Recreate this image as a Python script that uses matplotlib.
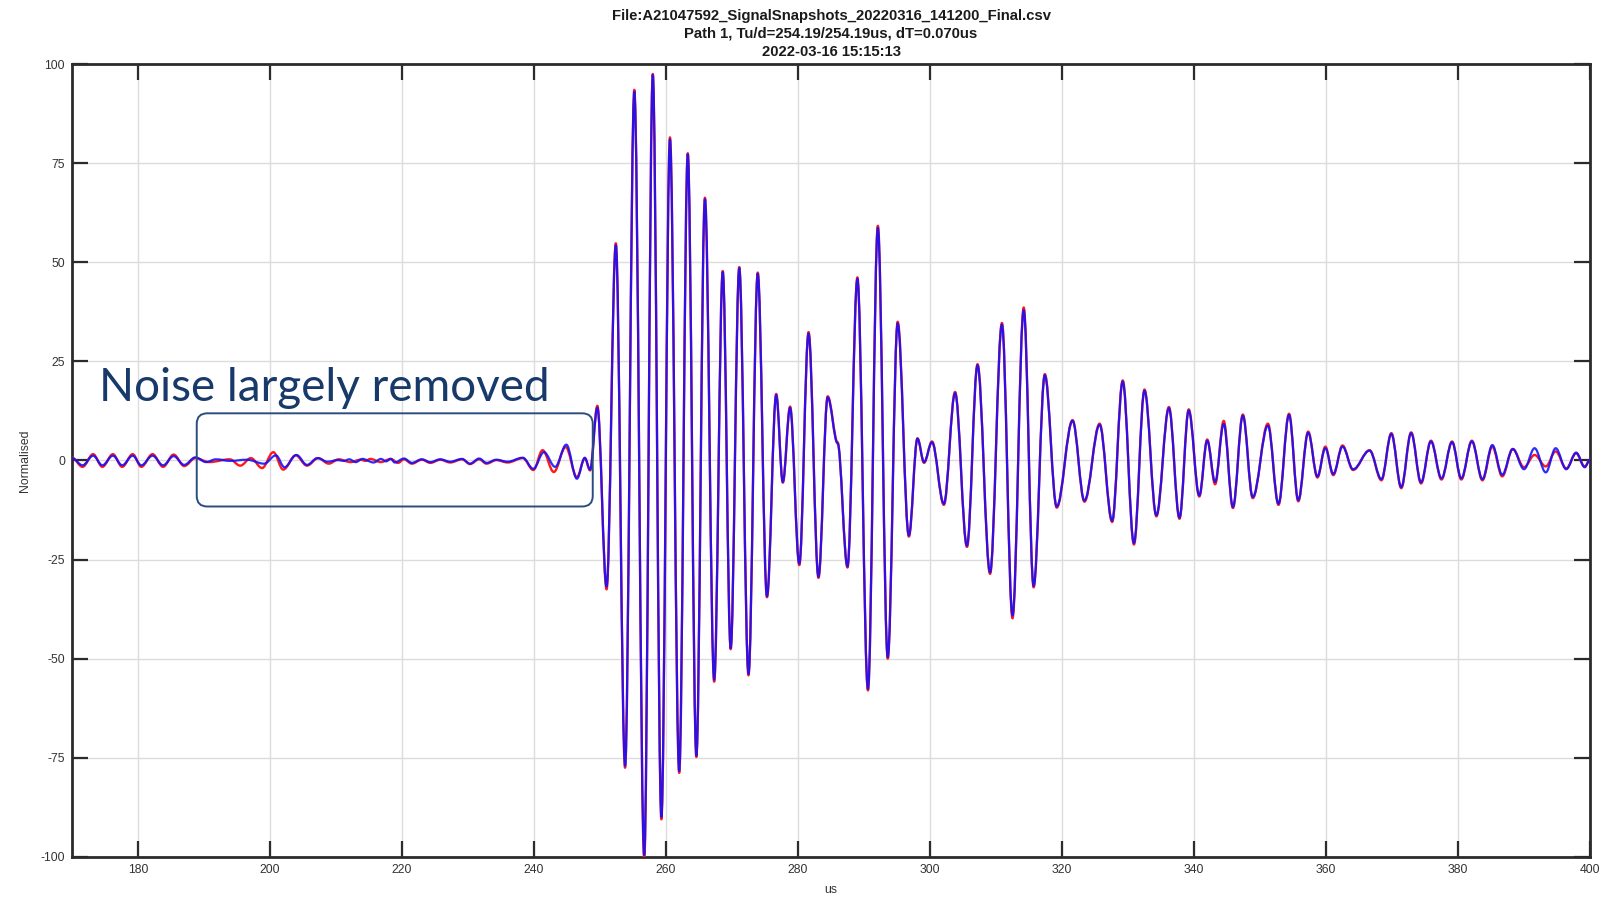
import matplotlib
matplotlib.use("Agg")
import matplotlib.pyplot as plt
from matplotlib.path import Path
from matplotlib.patches import PathPatch, FancyBboxPatch

plt.rcParams['font.family'] = ['Liberation Sans', 'DejaVu Sans']
plt.rcParams['axes.unicode_minus'] = False

# extrema of the two traces read off the snapshot (time in us, normalised amplitude)
# quiet part before the burst: the two traces differ here
noise_t_red = [170.0, 171.6, 173.2, 174.6, 176.2, 177.6, 179.2, 180.5, 182.2, 183.8,
               185.4, 187.0, 188.7, 190.8, 193.9, 195.5, 197.1, 198.8, 200.5, 202.0,
               203.9, 205.6, 207.3, 208.9, 210.4, 212.2, 213.7, 214.5, 215.2, 216.8,
               218.3, 219.4, 220.3, 221.5, 223.0, 224.3, 225.8, 227.3, 229.1, 230.3,
               231.7, 232.8, 234.3, 236.0, 238.3, 239.9, 241.3, 243.0, 244.8, 246.5,
               247.7, 248.5]
noise_y_red = [0.7, -1.6, 1.6, -1.6, 1.6, -1.6, 1.6, -1.6, 1.6, -1.6,
               1.5, -1.4, 0.6, -0.4, 0.3, -1.3, 0.6, -1.9, 2.1, -2.3,
               1.3, -1.3, 0.6, -0.8, 0.3, -0.4, 0.2, -0.1, 0.4, -0.4,
               0.4, -0.6, 0.3, -0.8, 0.2, -0.6, 0.2, -0.5, 0.3, -0.9,
               0.3, -0.8, 0.1, -0.5, 0.6, -2.4, 2.6, -2.9, 3.4, -4.2,
               0.5, -2.5]
noise_t_blue = [170.0, 171.6, 173.2, 174.6, 176.2, 177.6, 179.2, 180.5, 182.2, 183.8,
                185.4, 187.0, 188.7, 190.3, 191.8, 194.0, 196.5, 199.1, 200.9, 202.2,
                204.0, 205.6, 207.2, 208.7, 210.3, 211.2, 212.0, 213.0, 214.0, 215.7,
                216.8, 217.6, 218.3, 218.9, 220.3, 221.5, 223.0, 224.3, 225.8, 227.3,
                229.1, 230.3, 231.7, 232.8, 234.3, 236.0, 238.3, 239.9, 241.5, 243.2,
                244.9, 246.5, 247.7, 248.5]
noise_y_blue = [0.6, -1.2, 1.2, -1.2, 1.2, -1.2, 1.2, -1.2, 1.2, -1.2,
                1.1, -1.1, 0.8, -0.4, 0.3, -0.1, 0.2, -0.8, 1.3, -1.7,
                1.4, -1.1, 0.6, -0.3, 0.1, -0.1, 0.3, -0.4, 0.4, -0.5,
                0.4, -0.2, 0.4, -0.5, 0.5, -0.6, 0.3, -0.4, 0.3, -0.3,
                0.4, -0.8, 0.5, -0.6, 0.2, -0.3, 0.7, -2.1, 2.1, -1.6,
                4.0, -4.6, 0.7, -2.3]

# main burst: both traces share the same extrema times
burst_t = [249.6, 251.0, 252.4, 253.8, 255.2, 256.7, 258.0, 259.3, 260.6, 262.0,
           263.3, 264.6, 265.9, 267.3, 268.6, 269.8, 271.1, 272.5, 273.9, 275.3,
           276.7, 277.7, 278.8, 280.2, 281.6, 283.1, 284.5, 286.0, 287.5, 289.0,
           290.6, 292.1, 293.6, 295.1, 296.8, 298.1, 299.1, 300.3, 302.1, 303.8,
           305.6, 307.2, 309.1, 310.9, 312.5, 314.2, 315.7, 317.4, 319.2, 321.6,
           323.4, 325.7, 327.6, 329.2, 330.9, 332.5, 334.3, 336.2, 337.8, 339.2,
           340.8, 342.0, 343.2, 344.5, 345.9, 347.4, 348.9, 351.2, 352.8, 354.4,
           355.8, 357.3, 358.7, 359.9, 361.1, 362.5, 364.1, 366.6, 368.4, 369.9,
           371.4, 372.9, 374.4, 375.9, 377.5, 379.1, 380.5, 382.1, 383.7, 385.2,
           386.7, 388.3, 390.0, 391.6, 393.3, 394.8, 396.4, 397.9, 399.2, 400.0]
burst_y_blue = [13.3, -31.8, 54.3, -77.0, 93.0, -99.5, 97.2, -89.9, 81.0, -78.3,
                77.2, -74.4, 65.9, -55.3, 47.5, -47.3, 48.5, -53.8, 47.1, -34.2,
                16.5, -5.4, 13.3, -26.0, 32.0, -29.3, 15.9, 4.3, -26.7, 45.8,
                -57.6, 58.7, -49.6, 34.6, -18.9, 5.5, -0.4, 4.6, -10.9, 17.0,
                -21.5, 24.0, -28.2, 34.3, -39.1, 37.9, -31.6, 21.5, -11.6, 10.0,
                -10.1, 9.0, -15.2, 19.9, -20.8, 17.6, -13.8, 13.2, -14.4, 12.6,
                -8.8, 5.0, -5.4, 9.2, -11.7, 11.3, -9.2, 8.8, -10.9, 11.5,
                -10.0, 7.0, -4.0, 3.1, -3.4, 3.5, -2.2, 2.5, -4.7, 6.7,
                -6.7, 6.9, -5.5, 4.8, -4.5, 4.6, -4.5, 4.8, -4.7, 3.9,
                -3.6, 2.9, -2.2, 3.1, -3.0, 3.1, -2.2, 2.0, -1.7, 0.2]
burst_y_red = [13.8, -32.5, 54.8, -77.5, 93.5, -100.5, 97.5, -90.5, 81.5, -78.8,
               77.5, -74.8, 66.3, -55.8, 47.8, -47.6, 48.8, -54.2, 47.4, -34.5,
               16.8, -5.6, 13.6, -26.4, 32.4, -29.6, 16.2, 4.6, -27.0, 46.2,
               -58.0, 59.2, -50.0, 35.0, -19.2, 5.6, -0.6, 4.8, -11.2, 17.3,
               -21.8, 24.3, -28.6, 34.7, -39.8, 38.6, -32.0, 21.8, -11.9, 10.2,
               -10.4, 9.3, -15.5, 20.2, -21.2, 17.9, -14.1, 13.5, -14.7, 12.9,
               -9.1, 5.3, -6.0, 10.0, -12.0, 11.6, -9.5, 9.3, -11.2, 11.8,
               -10.3, 7.3, -4.3, 3.5, -3.7, 3.8, -2.4, 2.6, -5.0, 6.9,
               -7.0, 7.1, -5.8, 5.0, -4.8, 4.8, -4.8, 5.0, -5.0, 3.5,
               -4.0, 2.9, -1.7, 1.4, -1.5, 2.3, -2.0, 1.8, -1.5, 0.2]

title_lines = ["File:A21047592_SignalSnapshots_20220316_141200_Final.csv",
               "Path 1, Tu/d=254.19/254.19us, dT=0.070us",
               "2022-03-16 15:15:13"]
note_text = "Noise largely removed"
note_box = (188.9, -11.6, 60.0, 23.5)   # x0, y0, width, height in data units


def wave_path(t, y, k=0.36):
    # smooth half-wave segments between successive extrema (horizontal tangents)
    verts = [(t[0], y[0])]
    codes = [Path.MOVETO]
    for i in range(1, len(t)):
        dt = t[i] - t[i - 1]
        verts += [(t[i - 1] + k * dt, y[i - 1]), (t[i] - k * dt, y[i]), (t[i], y[i])]
        codes += [Path.CURVE4] * 3
    return Path(verts, codes)


fig = plt.figure(figsize=(16.1, 8.98), dpi=100)
ax = fig.add_axes([0.04472, 0.04566, 0.94286, 0.88307])

red_t = noise_t_red + burst_t
red_y = noise_y_red + burst_y_red
blue_t = noise_t_blue + burst_t
blue_y = noise_y_blue + burst_y_blue

ax.add_patch(PathPatch(wave_path(red_t, red_y), fill=False, edgecolor='#ff1a1a',
                       lw=1.7, zorder=3, capstyle='round', joinstyle='round'))
ax.add_patch(PathPatch(wave_path(blue_t, blue_y), fill=False, edgecolor='#1010ff',
                       lw=1.6, alpha=0.88, zorder=4, capstyle='round', joinstyle='round'))

ax.set_xlim(170, 400)
ax.set_ylim(-100, 100)
ax.set_xticks(range(180, 401, 20))
ax.set_yticks(range(-100, 101, 25))
ax.grid(True, color='#dcdcdc', lw=1.0, zorder=0)
ax.set_axisbelow(True)

for s in ax.spines.values():
    s.set_linewidth(2.0)
    s.set_color('#2b2b2b')
ax.tick_params(direction='in', length=11.5, width=1.6, color='#2b2b2b',
               top=True, right=True, labelsize=8.8, labelcolor='#333333', pad=5)

ax.set_xlabel("us", fontsize=8.8, color='#333333')
ax.xaxis.set_label_coords(0.5, -0.034)
ax.set_ylabel("Normalised", fontsize=8.8, color='#333333')
ax.yaxis.set_label_coords(-0.027, 0.5)
ax.set_title("\n".join(title_lines), fontsize=10.7, fontweight='bold',
             linespacing=1.36, pad=6, color='#1a1a1a')

# annotation
ax.text(174.1, 15.1, note_text, fontsize=33, color='#173a6a', family='Lato',
        va='baseline', ha='left', zorder=6)
bx, by, bw, bh = note_box
ax.add_patch(FancyBboxPatch((bx, by), bw, bh, boxstyle="round,pad=0,rounding_size=1.6",
                            mutation_aspect=1.66, fill=False, edgecolor='#2b4c7e',
                            lw=1.4, zorder=6))

fig.savefig("out.png", dpi=100)
